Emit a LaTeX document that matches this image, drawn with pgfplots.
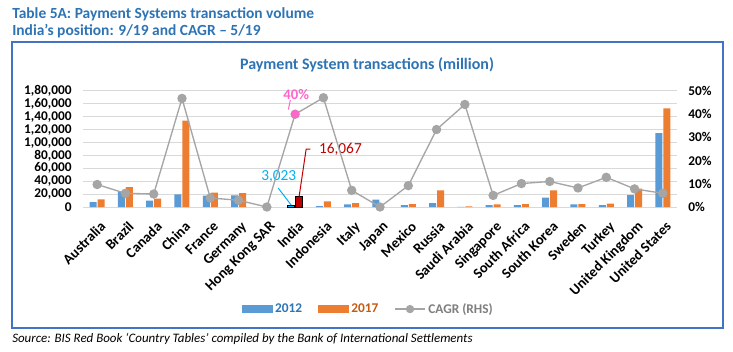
\documentclass[border=0pt]{standalone}
\usepackage{pgfplots}
\pgfplotsset{compat=1.18}
\usepackage{fontspec}
\setmainfont{Carlito}
\definecolor{c2012}{HTML}{5B9BD5}
\definecolor{c2017}{HTML}{ED7D31}
\definecolor{cagrgrey}{HTML}{A5A5A5}
\definecolor{gridgrey}{HTML}{D9D9D9}
\definecolor{titleblue}{HTML}{2E74B5}
\definecolor{boxblue}{HTML}{4472C4}
\definecolor{t2012}{HTML}{2E75B6}
\definecolor{t2017}{HTML}{C55A11}
\definecolor{tcagr}{HTML}{7F7F7F}
\definecolor{indiablue}{HTML}{00B0F0}
\definecolor{indiared}{HTML}{C00000}
\definecolor{pinkc}{HTML}{FF66CC}
\begin{document}
\begin{tikzpicture}
\begin{scope}[x=0.75pt,y=0.75pt]
\path[use as bounding box] (0,0) rectangle (733,351);
\fill[white] (0,0) rectangle (733,351);
\draw[boxblue, line width=1.5pt] (12,23) rectangle (723,309);
\node[anchor=base west, inner sep=0, text=titleblue, font=\bfseries\fontsize{11.6}{13}\selectfont] at (12,332) {Table 5A: Payment Systems transaction volume};
\node[anchor=base west, inner sep=0, text=titleblue, font=\bfseries\fontsize{11.6}{13}\selectfont] at (12,315) {India’s position: 9/19 and CAGR – 5/19};
\node[anchor=base, inner sep=0, text=titleblue, font=\bfseries\fontsize{12}{14}\selectfont] at (367,281) {Payment System transactions (million)};
\node[anchor=base west, inner sep=0, font=\itshape\fontsize{9.7}{11}\selectfont] at (12,9) {Source: BIS Red Book ‘Country Tables’ compiled by the Bank of International Settlements};
\end{scope}

\begin{axis}[at={(62.25pt,108pt)}, anchor=south west, scale only axis,
  width=445.5pt, height=87pt,
  xmin=-0.5, xmax=20.5, ymin=0, ymax=180000,
  xtick={0,...,20},
  xticklabels={Australia,Brazil,Canada,China,France,Germany,Hong Kong SAR,India,Indonesia,Italy,Japan,Mexico,Russia,Saudi Arabia,Singapore,South Africa,South Korea,Sweden,Turkey,United Kingdom,United States},
  x tick label style={xshift=1.5pt, yshift=-8.5pt, rotate=45, anchor=north east, inner sep=1pt, font=\bfseries\fontsize{10.8}{12}\selectfont},
  ytick={0,20000,40000,60000,80000,100000,120000,140000,160000,180000},
  yticklabels={0,{20,000},{40,000},{60,000},{80,000},{1,00,000},{1,20,000},{1,40,000},{1,60,000},{1,80,000}},
  y tick label style={font=\bfseries\fontsize{10}{12}\selectfont, xshift=-5pt},
  scaled y ticks=false,
  ymajorgrids, grid style={gridgrey, line width=0.75pt},
  axis lines*=left,
  y axis line style={draw=none},
  x axis line style={draw=gridgrey, line width=0.75pt, -},
  major tick length=0pt,
  clip=false,
]
\addplot[ybar, bar width=5.25pt, bar shift=-3pt, fill=c2012, draw=none] coordinates {
(0,7700) (1,24000) (2,9800) (3,19600) (4,17500) (5,18000) (8,1300) (9,4100) (10,11300) (11,3100) (12,6100) (13,150) (14,3100) (15,3100) (16,14400) (17,4100) (18,3100) (19,18600) (20,114500)};
\addplot[ybar, bar width=5.25pt, bar shift=3pt, fill=c2017, draw=none] coordinates {
(0,11900) (1,31000) (2,12900) (3,134000) (4,22200) (5,21700) (8,8800) (9,6200) (11,4600) (12,25800) (13,950) (14,4100) (15,4600) (16,25800) (17,4600) (18,5200) (19,28400) (20,153200)};
\addplot[ybar, bar width=5.25pt, bar shift=-3pt, fill=indiablue, draw=black, line width=0.75pt] coordinates {(7,3023)};
\addplot[ybar, bar width=5.25pt, bar shift=3pt, fill=indiared, draw=black, line width=0.75pt] coordinates {(7,16067)};
\draw[indiablue, line width=0.75pt] (axis cs:6.40,29500) -- (axis cs:6.86,3023);
\node[text=indiablue, font=\fontsize{11.5}{13}\selectfont] at (axis cs:6.42,46550) {3,023};
\draw[indiared, line width=0.75pt] (axis cs:7.14,16067) -- (axis cs:7.39,90000) -- (axis cs:7.54,90000);
\node[anchor=west, text=indiared, font=\fontsize{11.5}{13}\selectfont] at (axis cs:7.68,90000) {16,067};
\end{axis}

\begin{axis}[at={(62.25pt,108pt)}, anchor=south west, scale only axis,
  width=445.5pt, height=87pt,
  xmin=-0.5, xmax=20.5, ymin=0, ymax=0.5,
  axis x line=none,
  axis y line*=right,
  y axis line style={draw=none},
  major tick length=0pt,
  ytick={0,0.1,0.2,0.3,0.4,0.5},
  yticklabels={0\%,10\%,20\%,30\%,40\%,50\%},
  y tick label style={font=\bfseries\fontsize{10}{12}\selectfont, xshift=5pt},
  clip=false,
  legend columns=3,
  legend style={draw=none, fill=none, at={(0.481,-0.88)}, anchor=center,
    font=\bfseries\fontsize{10}{12}\selectfont,
    /tikz/every even column/.append style={column sep=10pt}},
]
\addlegendimage{legend image code/.code={\fill[c2012] (0pt,-2.6pt) rectangle (22.5pt,2.6pt);}}
\addlegendentry{\textcolor{t2012}{2012}}
\addlegendimage{legend image code/.code={\fill[c2017] (0pt,-2.6pt) rectangle (22.5pt,2.6pt);}}
\addlegendentry{\textcolor{t2017}{2017}}
\addplot[color=cagrgrey, line width=1pt, mark=*, mark size=3pt, mark options={fill=cagrgrey, draw=cagrgrey},
  legend image code/.code={\draw[cagrgrey, line width=1pt] (0pt,0pt) -- (22.5pt,0pt); \fill[cagrgrey] (11.25pt,0pt) circle (2.6pt);}] coordinates {
(0,0.097) (1,0.059) (2,0.056) (3,0.468) (4,0.039) (5,0.029) (6,0.0) (7,0.40) (8,0.471) (9,0.072) (10,0.0) (11,0.092) (12,0.334) (13,0.442) (14,0.050) (15,0.101) (16,0.110) (17,0.082) (18,0.128) (19,0.078) (20,0.059)};
\addlegendentry{\textcolor{tcagr}{CAGR (RHS)}}
\addplot[only marks, mark=*, mark size=3pt, mark options={fill=pinkc, draw=pinkc}, forget plot] coordinates {(7,0.40)};
\draw[pinkc, line width=0.75pt] (axis cs:6.83,0.461) -- (axis cs:6.76,0.420);
\node[text=pinkc, font=\bfseries\fontsize{11}{13}\selectfont] at (axis cs:7.04,0.483) {40\%};
\end{axis}
\end{tikzpicture}
\end{document}
